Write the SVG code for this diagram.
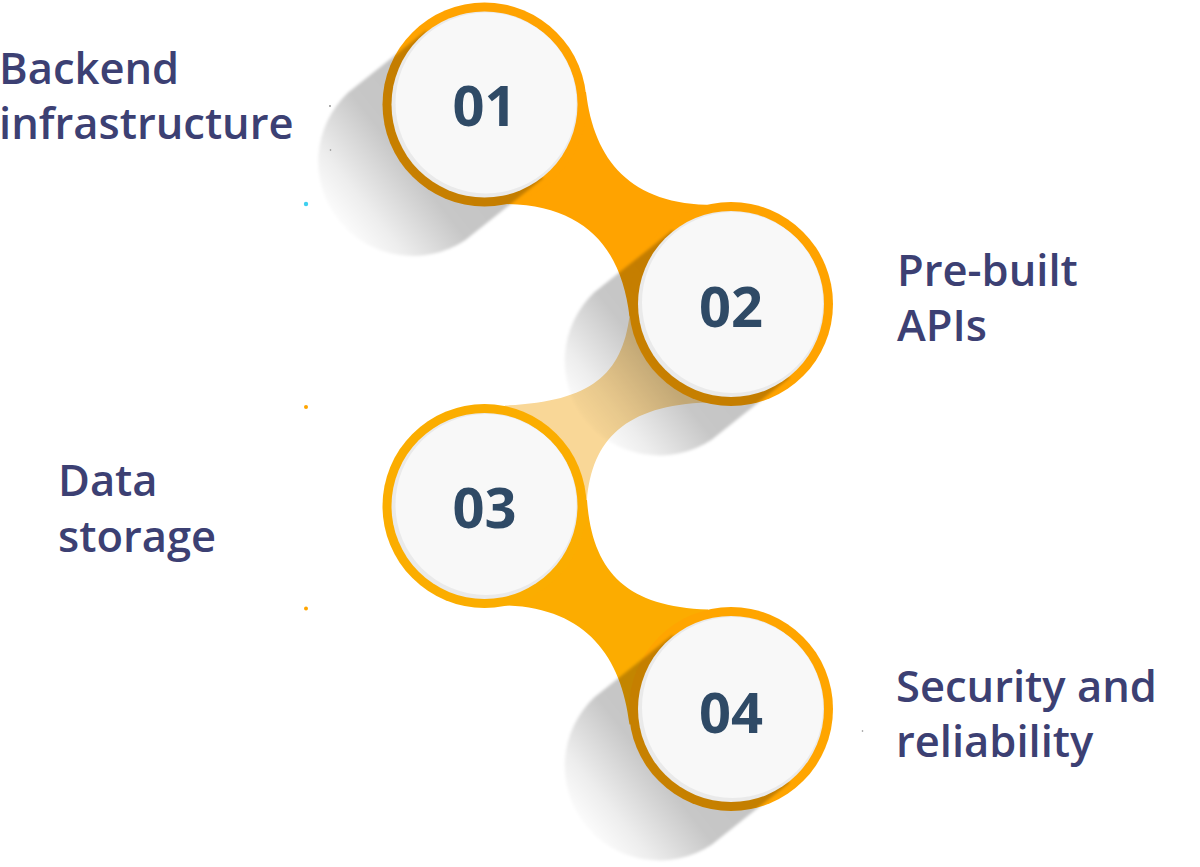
<svg xmlns="http://www.w3.org/2000/svg" xmlns:xlink="http://www.w3.org/1999/xlink" width="1200" height="867" viewBox="0 0 1200 867">
<style>
.lbl{font-family:"Open Sans","Noto Sans","Liberation Sans",sans-serif;font-weight:600;font-size:43.5px;fill:#3C4073}
.num{font-family:"Open Sans","Noto Sans","Liberation Sans",sans-serif;font-weight:700;font-size:56px;fill:#2F4A66;text-anchor:middle}
.rim{fill:#EAEAEA}
.face{fill:#F8F8F8}
.sh{fill:url(#shg);filter:url(#soft)}
</style>
<defs>
<linearGradient id="shg" gradientUnits="userSpaceOnUse" x1="0" y1="0" x2="-152" y2="121">
<stop offset="0" stop-color="#000" stop-opacity="0.24"/>
<stop offset="0.5" stop-color="#000" stop-opacity="0.22"/>
<stop offset="0.8" stop-color="#000" stop-opacity="0.07"/>
<stop offset="1" stop-color="#000" stop-opacity="0"/>
</linearGradient>
<filter id="soft" x="-20%" y="-20%" width="140%" height="140%">
<feGaussianBlur stdDeviation="1.5"/>
</filter>
<path id="shadow" d="M-58.6,-73.7 L-136.6,-11.7 A94.5,94.5 0 0 0 -19.4,135.7 L58.6,73.7 Z"/>
</defs>
<rect width="1200" height="867" fill="#FFFFFF"/>

<g id="connectors">
<path id="c12" fill="#FFA300" d="M586,92 C594,160 630,205 714,205 L731,304 L629.5,316.5 C621.5,248.5 585.5,204.5 503.5,204 L484.5,104.5 Z"/>
<path id="c23" fill="#F9D797" d="M587,500 C592,440 625,405 708,402.5 L731,304 L629.5,316 C622,375 590,402 505,405.5 L484.5,506 Z"/>
<path id="c34" fill="#FCAC00" d="M587,500 C592,570 625,607 708,609.5 L731,709 L629.5,724.5 C621.5,656.5 585.5,607.5 505,605.5 L484.5,506 Z"/>
</g>

<g id="node-01">
<g transform="translate(484.5,104.5)">
<circle r="102" fill="#FFA300"/>
<use xlink:href="#shadow" class="sh"/>
<circle r="93" class="rim"/>
<circle cx="1.5" cy="-1.5" r="90.5" class="face"/>
<text class="num" x="0" y="21">01</text>
</g>
<text class="lbl" x="-1" y="83.5">Backend</text>
<text class="lbl" x="-1" y="138.5">infrastructure</text>
</g>

<g id="node-02">
<g transform="translate(731,304)">
<circle r="102" fill="#FFA300"/>
<use xlink:href="#shadow" class="sh"/>
<circle r="93" class="rim"/>
<circle cx="1.5" cy="-1.5" r="90.5" class="face"/>
<text class="num" x="0" y="22.5">02</text>
</g>
<text class="lbl" x="897" y="285.5">Pre-built</text>
<text class="lbl" x="897" y="341">APIs</text>
</g>

<g id="node-03">
<g transform="translate(484.5,506)">
<circle r="102" fill="#FBAD00"/>
<circle r="93" class="rim"/>
<circle cx="1.5" cy="-1.5" r="90.5" class="face"/>
<text class="num" x="0" y="22.3">03</text>
</g>
<text class="lbl" x="58" y="496">Data</text>
<text class="lbl" x="58" y="551.5">storage</text>
</g>

<g id="node-04">
<g transform="translate(731,709)">
<circle r="102" fill="#FFA500"/>
<use xlink:href="#shadow" class="sh"/>
<circle r="93" class="rim"/>
<circle cx="1.5" cy="-1.5" r="90.5" class="face"/>
<text class="num" x="0" y="24.3">04</text>
</g>
<text class="lbl" x="896" y="701.5">Security and</text>
<text class="lbl" x="896" y="757">reliability</text>
</g>

<g id="dots">
<circle cx="306" cy="204" r="2.2" fill="#3FD0F0"/>
<circle cx="306" cy="407" r="2" fill="#FFA500"/>
<circle cx="306" cy="608.5" r="2" fill="#FFA500"/>
<circle cx="330" cy="106" r="0.9" fill="#888888"/>
<circle cx="330.5" cy="150" r="0.8" fill="#888888"/>
<circle cx="862.5" cy="731" r="0.8" fill="#888888"/>
</g>
</svg>
